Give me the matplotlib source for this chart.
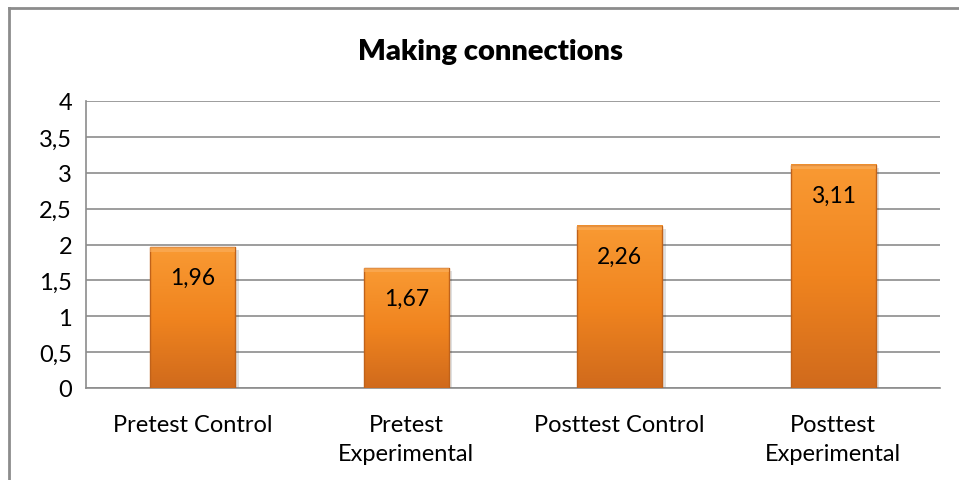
import numpy as np
import matplotlib
matplotlib.use('Agg')
import matplotlib.pyplot as plt
from matplotlib.colors import LinearSegmentedColormap
from matplotlib.patches import Rectangle

# Chart data
categories = ['Pretest Control', 'Pretest\nExperimental', 'Posttest Control', 'Posttest\nExperimental']
scores = [1.96, 1.67, 2.26, 3.11]
value_labels = ['1,96', '1,67', '2,26', '3,11']
yticks = [0, 0.5, 1, 1.5, 2, 2.5, 3, 3.5, 4]
ytick_labels = ['0', '0,5', '1', '1,5', '2', '2,5', '3', '3,5', '4']

plt.rcParams['font.family'] = ['Lato', 'DejaVu Sans']

fig = plt.figure(figsize=(9.59, 4.81), dpi=100)
ax = fig.add_axes([86 / 959, 1 - 389 / 481, (940 - 86) / 959, (389 - 102) / 481])

x = np.arange(len(categories))
bars = ax.bar(x, scores, width=0.4, color='none', zorder=3)

# orange vertical gradient, light at top, darker at bottom
grad = LinearSegmentedColormap.from_list('og', ['#d06a1c', '#f0841f', '#f99a33'])
img = np.linspace(0, 1, 256).reshape(-1, 1)
for b in bars:
    x0, w, h = b.get_x(), b.get_width(), b.get_height()
    # soft shadow
    ax.add_patch(Rectangle((x0 + 0.015, -0.04), w, h, color='#000000', alpha=0.12, zorder=2, lw=0))
    ax.imshow(img, cmap=grad, origin='lower', aspect='auto',
              extent=(x0, x0 + w, 0, h), zorder=3)
    # bevel edges
    ax.add_patch(Rectangle((x0, 0), w, h, fill=False, ec='#c0621a', lw=1.0, zorder=4))
    ax.add_patch(Rectangle((x0, h - 0.06), w, 0.06, color='#fbb060', alpha=0.6, lw=0, zorder=4))

for xi, v, lab in zip(x, scores, value_labels):
    ax.annotate(lab, (xi, v), xytext=(0, -30), textcoords='offset pixels',
                ha='center', va='center', fontsize=16.5, color='black', zorder=5)

ax.set_xlim(-0.5, len(categories) - 0.5)
ax.set_ylim(0, 4)
ax.set_yticks(yticks)
ax.set_yticklabels(ytick_labels, fontsize=17)
ax.set_xticks(x)
ax.set_xticklabels(categories, fontsize=17, linespacing=1.45, va='top')
ax.tick_params(length=0, pad=10)
ax.tick_params(axis='x', pad=19)
ax.grid(axis='y', color='#8c8c8c', lw=1.2, zorder=0)
ax.set_axisbelow(True)
for s in ['top', 'right']:
    ax.spines[s].set_visible(False)
for s in ['left', 'bottom']:
    ax.spines[s].set_color('#8c8c8c')
    ax.spines[s].set_linewidth(1.2)

fig.text(490 / 959, 1 - 52 / 481, 'Making connections', ha='center', va='center',
         fontsize=21, fontweight='heavy')

# outer frame (left and top edges)
fig.add_artist(plt.Line2D([9 / 959, 9 / 959], [0, 1 - 9 / 481], color='#8c8c8c', lw=2))
fig.add_artist(plt.Line2D([9 / 959, 1], [1 - 9 / 481, 1 - 9 / 481], color='#8c8c8c', lw=2))

fig.savefig('out.png', dpi=100)
